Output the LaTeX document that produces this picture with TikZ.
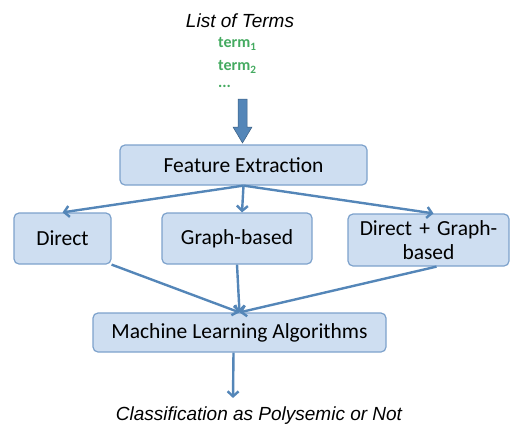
\documentclass[tikz,border=0pt]{standalone}
\usepackage{fontspec}
\setmainfont{Carlito}
\newfontfamily\arialfont{Liberation Sans}
\usetikzlibrary{arrows.meta,positioning}
\definecolor{boxfill}{RGB}{206,222,241}
\definecolor{boxline}{RGB}{125,162,204}
\definecolor{arrowblue}{RGB}{84,134,184}
\definecolor{termgreen}{RGB}{68,170,96}

\begin{document}
\begin{tikzpicture}[x=1pt,y=-1pt,
stepbox/.style={draw=boxline, fill=boxfill, line width=1.2pt, rounded corners=5pt, font=\fontsize{21.5}{23}\selectfont, align=center, inner sep=0pt},
flow/.style={draw=arrowblue, line width=2.4pt, -{Straight Barb[length=5pt,width=11pt]}},
italictext/.style={font=\arialfont\itshape\fontsize{19}{21}\selectfont, inner sep=0pt},
termtext/.style={text=termgreen, font=\bfseries\fontsize{16}{18}\selectfont, inner sep=0pt, anchor=west}
]
    \useasboundingbox (0,0) rectangle (511,426);

    \node[italictext] (listTerms) at (240,21) {List of Terms};
    \node[termtext] (termA) at (218,44) {term\textsubscript{1}};
    \node[termtext] (termB) at (218,67) {term\textsubscript{2}};
    \node[termtext] (termDots) at (218,86) {...};

    % thick block arrow
    \filldraw[fill=arrowblue, draw=arrowblue!70!black, line width=0.5pt] (238,99) -- (247,99) -- (247,127) -- (252,127) -- (242.5,143) -- (233,127) -- (238,127) -- cycle;

    \node[stepbox, minimum width=247pt, minimum height=40pt] (nodeFeat) at (243.5,165) {Feature Extraction};
    \node[stepbox, minimum width=97pt, minimum height=51pt] (nodeDirect) at (62.5,238.5) {Direct};
    \node[stepbox, minimum width=150pt, minimum height=51pt] (nodeGraph) at (237,238.5) {Graph-based};
    \node[stepbox, minimum width=161pt, minimum height=52pt, text width=155pt] (nodeBoth) at (428.5,240) {Direct + Graph-\\[1pt]based};
    \node[stepbox, minimum width=293pt, minimum height=39pt] (nodeML) at (239.5,332.5) {Machine Learning Algorithms};
    \node[italictext] (nodeClass) at (259,416) {Classification as Polysemic or Not};

    \draw[flow] (nodeFeat.south) -- (nodeDirect.north);
    \draw[flow] (nodeFeat.south) -- ([xshift=5pt]nodeGraph.north);
    \draw[flow] (nodeFeat.south) -- ([xshift=5pt]nodeBoth.north);

    \draw[flow] (nodeDirect.south east) -- (nodeML.north);
    \draw[flow] (nodeGraph.south) -- (nodeML.north);
    \draw[flow] ([xshift=8pt]nodeBoth.south) -- (nodeML.north);

    \draw[flow] ([xshift=-6pt]nodeML.south) -- ([xshift=-26pt,yshift=9pt]nodeClass.north);
\end{tikzpicture}
\end{document}
